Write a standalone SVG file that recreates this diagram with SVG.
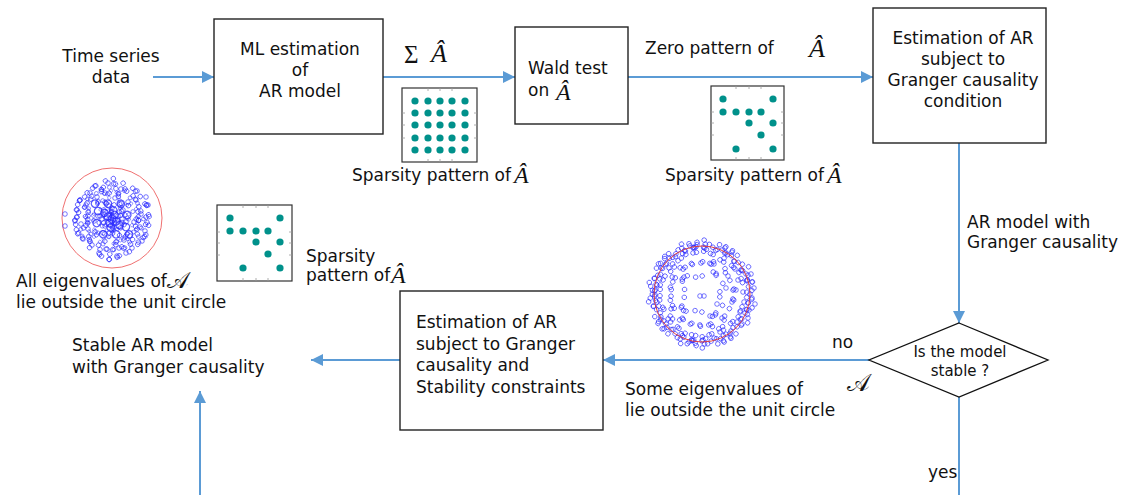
<svg xmlns="http://www.w3.org/2000/svg" xmlns:xlink="http://www.w3.org/1999/xlink" width="1123" height="495" viewBox="0 0 1123 495">
<style>
.t{font-family:"DejaVu Sans","Liberation Sans",sans-serif;font-size:17px;fill:#111}
.ts{font-family:"DejaVu Sans","Liberation Sans",sans-serif;font-size:15px;fill:#111}
.m{font-family:"Liberation Serif","DejaVu Serif",serif;font-style:italic;fill:#111}
.up{font-family:"Liberation Serif","DejaVu Serif",serif;font-style:normal;fill:#111}
.sc{font-family:"DejaVu Serif","DejaVu Sans","Noto Sans",serif;font-style:normal;fill:#111}
.box{fill:#fff;stroke:#222;stroke-width:1.4}
.con{fill:none;stroke:#5b9bd5;stroke-width:2}
.mat{fill:#fff;stroke:#333;stroke-width:1.2}
.tick{stroke:#999;stroke-width:0.8}
.d{fill:#00918b}
.ev{fill:none;stroke:#2a2aff;stroke-width:0.8;stroke-opacity:0.8}
.uc{fill:none;stroke-width:1}
</style>
<defs>
<marker id="ah" markerUnits="userSpaceOnUse" markerWidth="12" markerHeight="12" refX="12" refY="6" orient="auto">
<path d="M0,0 L12,6 L0,12 z" fill="#5b9bd5"/>
</marker>
<g id="sp">
<circle class="d" cx="0" cy="0" r="3.6"/><circle class="d" cx="50" cy="0" r="3.6"/>
<circle class="d" cx="0" cy="13" r="3.6"/><circle class="d" cx="13" cy="13" r="3.6"/><circle class="d" cx="26" cy="13" r="3.6"/><circle class="d" cx="38" cy="13" r="3.6"/>
<circle class="d" cx="26" cy="24" r="3.6"/><circle class="d" cx="50" cy="24" r="3.6"/>
<circle class="d" cx="38" cy="36" r="3.6"/>
<circle class="d" cx="13" cy="50" r="3.6"/><circle class="d" cx="50" cy="50" r="3.6"/>
</g>
<g id="evL" class="ev">
<circle cx="-31" cy="5" r="2.3"/><circle cx="24" cy="-19" r="2.3"/><circle cx="7" cy="29" r="2.3"/><circle cx="-15" cy="-22" r="2.3"/>
<circle cx="33" cy="12" r="2.3"/><circle cx="-4" cy="-36" r="2.3"/><circle cx="18" cy="17" r="2.3"/><circle cx="-26" cy="-14" r="2.3"/>
<circle cx="11" cy="-9" r="2.3"/><circle cx="-9" cy="14" r="2.3"/><circle cx="29" cy="-5" r="2.3"/><circle cx="-20" cy="26" r="2.3"/>
<circle cx="3" cy="-21" r="2.3"/><circle cx="36" cy="-14" r="2.3"/><circle cx="-35" cy="-9" r="2.3"/><circle cx="14" cy="34" r="2.3"/>
<circle cx="-12" cy="-3" r="2.3"/><circle cx="22" cy="3" r="2.3"/><circle cx="-6" cy="30" r="2.3"/><circle cx="9" cy="-30" r="2.3"/>
<circle cx="-24" cy="10" r="2.3"/><circle cx="30" cy="22" r="2.3"/><circle cx="-17" cy="-33" r="2.3"/><circle cx="1" cy="9" r="2.3"/>
<circle cx="25" cy="-28" r="2.3"/><circle cx="-29" cy="20" r="2.3"/><circle cx="16" cy="-17" r="2.3"/><circle cx="-37" cy="2" r="2.3"/>
<circle cx="5" cy="37" r="2.3"/><circle cx="-3" cy="-13" r="2.3"/><circle cx="20" cy="29" r="2.3"/><circle cx="-13" cy="34" r="2.3"/>
<circle cx="34" cy="-22" r="2.3"/><circle cx="-22" cy="-26" r="2.3"/><circle cx="12" cy="21" r="2.3"/><circle cx="-7" cy="-26" r="2.3"/>
<circle cx="28" cy="8" r="2.3"/><circle cx="-32" cy="-19" r="2.3"/><circle cx="6" cy="-3" r="2.3"/><circle cx="-18" cy="2" r="2.3"/>
</g>
<g id="evC" class="ev">
<circle cx="0" cy="0" r="2.3"/><circle cx="3" cy="0" r="2.3"/><circle cx="-3" cy="0" r="2.3"/><circle cx="0" cy="3" r="2.3"/>
<circle cx="0" cy="-3" r="2.3"/><circle cx="6" cy="1" r="2.3"/><circle cx="-6" cy="-1" r="2.3"/><circle cx="2" cy="5" r="2.3"/>
<circle cx="-2" cy="-5" r="2.3"/><circle cx="10" cy="0" r="2.3"/><circle cx="-10" cy="0" r="2.3"/><circle cx="7" cy="7" r="2.3"/>
<circle cx="-7" cy="7" r="2.3"/><circle cx="7" cy="-7" r="2.3"/><circle cx="-7" cy="-7" r="2.3"/><circle cx="0" cy="11" r="2.3"/>
<circle cx="0" cy="-11" r="2.3"/><circle cx="14" cy="3" r="2.3"/><circle cx="-14" cy="-3" r="2.3"/>
</g>
<g id="evR" class="ev">
<circle cx="48" cy="0" r="2.3"/><circle cx="46" cy="9" r="2.3"/><circle cx="43" cy="19" r="2.3"/><circle cx="50" cy="4" r="2.3"/>
<circle cx="52" cy="-6" r="2.3"/><circle cx="45" cy="-13" r="2.3"/><circle cx="39" cy="-24" r="2.3"/><circle cx="35" cy="28" r="2.3"/>
<circle cx="29" cy="37" r="2.3"/><circle cx="47" cy="16" r="2.3"/><circle cx="53" cy="10" r="2.3"/><circle cx="41" cy="-2" r="2.3"/>
<circle cx="36" cy="-14" r="2.3"/><circle cx="44" cy="-20" r="2.3"/><circle cx="32" cy="-33" r="2.3"/><circle cx="24" cy="-41" r="2.3"/>
<circle cx="42" cy="8" r="2.3"/><circle cx="38" cy="18" r="2.3"/><circle cx="50" cy="-12" r="2.3"/><circle cx="30" cy="8" r="2.3"/>
<circle cx="26" cy="-18" r="2.3"/><circle cx="20" cy="24" r="2.3"/><circle cx="12" cy="-30" r="2.3"/><circle cx="46" cy="24" r="2.3"/>
<circle cx="40" cy="30" r="2.3"/><circle cx="49" cy="-20" r="2.3"/><circle cx="34" cy="-4" r="2.3"/><circle cx="18" cy="38" r="2.3"/>
<circle cx="15" cy="10" r="2.3"/><circle cx="24" cy="-6" r="2.3"/><circle cx="8" cy="22" r="2.3"/><circle cx="33" cy="-25" r="2.3"/>
</g>
</defs>
<rect width="1123" height="495" fill="#fff"/>

<g id="connectors">
<path class="con" d="M153,77 H214" marker-end="url(#ah)"/>
<path class="con" d="M383,77 H515" marker-end="url(#ah)"/>
<path class="con" d="M628,77 H873" marker-end="url(#ah)"/>
<path class="con" d="M959,143 V323" marker-end="url(#ah)"/>
<path class="con" d="M869,360 H603" marker-end="url(#ah)"/>
<path class="con" d="M400,360 H311" marker-end="url(#ah)"/>
<path class="con" d="M959,397 V495"/>
<path class="con" d="M200,495 V391" marker-end="url(#ah)"/>
</g>

<g id="input">
<text class="t" x="111" y="62" text-anchor="middle">Time series</text>
<text class="t" x="111" y="83" text-anchor="middle">data</text>
</g>

<g id="ml">
<rect class="box" x="214" y="19" width="169" height="115"/>
<text class="t" x="300" y="55" text-anchor="middle">ML estimation</text>
<text class="t" x="300" y="76" text-anchor="middle">of</text>
<text class="t" x="300" y="97" text-anchor="middle">AR model</text>
</g>

<g id="sigma-label">
<text class="up" x="404" y="63" font-size="25">Σ</text>
<text class="m" x="431" y="62" font-size="26">Â</text>
</g>

<g id="wald">
<rect class="box" x="515" y="27" width="113" height="97"/>
<text class="t" x="528" y="74">Wald test</text>
<text class="t" x="528" y="96">on</text>
<text class="m" x="556" y="100" font-size="24">Â</text>
</g>

<g id="zero-label">
<text class="t" x="645" y="54">Zero pattern of</text>
<text class="m" x="809" y="57" font-size="26">Â</text>
</g>

<g id="est-gc">
<rect class="box" x="873" y="8" width="173" height="135"/>
<text class="t" x="963" y="44" text-anchor="middle">Estimation of AR</text>
<text class="t" x="963" y="65" text-anchor="middle">subject to</text>
<text class="t" x="963" y="86" text-anchor="middle">Granger causality</text>
<text class="t" x="963" y="107" text-anchor="middle">condition</text>
</g>

<g id="gc-label">
<text class="t" x="967" y="228">AR model with</text>
<text class="t" x="967" y="248">Granger causality</text>
</g>

<g id="stable-check">
<path d="M959,323 L1048,360 L959,397 L869,360 Z" fill="#fff" stroke="#111" stroke-width="1.3"/>
<text class="ts" x="960" y="357" text-anchor="middle">Is the model</text>
<text class="ts" x="960" y="376" text-anchor="middle">stable ?</text>
</g>

<g id="no-label">
<text class="t" x="832" y="348">no</text>
<text class="sc" x="847" y="391" font-size="24">𝒜</text>
<text class="t" x="625" y="395">Some eigenvalues of</text>
<text class="t" x="625" y="416">lie outside the unit circle</text>
</g>

<g id="yes-label">
<text class="t" x="928" y="478">yes</text>
</g>

<g id="est-stab">
<rect class="box" x="400" y="291" width="203" height="139"/>
<text class="t" x="416" y="328">Estimation of AR</text>
<text class="t" x="416" y="350">subject to Granger</text>
<text class="t" x="416" y="371">causality and</text>
<text class="t" x="416" y="393">Stability constraints</text>
</g>

<g id="output">
<text class="t" x="72" y="351">Stable AR model</text>
<text class="t" x="72" y="373">with Granger causality</text>
</g>

<g id="sparsity1">
<rect class="mat" x="402" y="88" width="75" height="74"/>
<g class="tick"><path d="M428,88v3M440,88v3M452,88v3M428,162v-3M440,162v-3M452,162v-3M402,113h3M402,125h3M402,138h3M477,113h-3M477,125h-3M477,138h-3"/></g>
<g>
<circle class="d" cx="415" cy="101" r="3.6"/><circle class="d" cx="428" cy="101" r="3.6"/><circle class="d" cx="440" cy="101" r="3.6"/><circle class="d" cx="452" cy="101" r="3.6"/><circle class="d" cx="465" cy="101" r="3.6"/>
<circle class="d" cx="415" cy="113" r="3.6"/><circle class="d" cx="428" cy="113" r="3.6"/><circle class="d" cx="440" cy="113" r="3.6"/><circle class="d" cx="452" cy="113" r="3.6"/><circle class="d" cx="465" cy="113" r="3.6"/>
<circle class="d" cx="415" cy="125" r="3.6"/><circle class="d" cx="428" cy="125" r="3.6"/><circle class="d" cx="440" cy="125" r="3.6"/><circle class="d" cx="452" cy="125" r="3.6"/><circle class="d" cx="465" cy="125" r="3.6"/>
<circle class="d" cx="415" cy="138" r="3.6"/><circle class="d" cx="428" cy="138" r="3.6"/><circle class="d" cx="440" cy="138" r="3.6"/><circle class="d" cx="452" cy="138" r="3.6"/><circle class="d" cx="465" cy="138" r="3.6"/>
<circle class="d" cx="415" cy="150" r="3.6"/><circle class="d" cx="428" cy="150" r="3.6"/><circle class="d" cx="440" cy="150" r="3.6"/><circle class="d" cx="452" cy="150" r="3.6"/><circle class="d" cx="465" cy="150" r="3.6"/>
</g>
<text class="t" x="352" y="181">Sparsity pattern of</text>
<text class="m" x="514" y="183" font-size="24">Â</text>
</g>

<g id="sparsity2">
<rect class="mat" x="711" y="86" width="73" height="74"/>
<g class="tick"><path d="M736,86v3M749,86v3M761,86v3M736,160v-3M749,160v-3M761,160v-3M711,112h3M711,123h3M711,135h3M784,112h-3M784,123h-3M784,135h-3"/></g>
<use xlink:href="#sp" href="#sp" transform="translate(723,99)"/>
<text class="t" x="665" y="181">Sparsity pattern of</text>
<text class="m" x="827" y="183" font-size="24">Â</text>
</g>

<g id="sparsity3">
<rect class="mat" x="217" y="205" width="75" height="76"/>
<g class="tick"><path d="M243,205v3M256,205v3M268,205v3M243,281v-3M256,281v-3M268,281v-3M217,232h3M217,243h3M217,255h3M292,232h-3M292,243h-3M292,255h-3"/></g>
<use xlink:href="#sp" href="#sp" transform="translate(230,218)"/>
<text class="t" x="306" y="262">Sparsity</text>
<text class="t" x="306" y="281">pattern of</text>
<text class="m" x="391" y="283" font-size="24">Â</text>
</g>

<g id="eig-stable">
<circle class="uc" cx="112" cy="218" r="50" stroke="#f07070"/>
<g transform="translate(112,219)">
<use href="#evL" xlink:href="#evL"/>
<use href="#evL" xlink:href="#evL" transform="rotate(61) scale(1,-1)"/>
<use href="#evL" xlink:href="#evL" transform="rotate(127)"/>
<use href="#evL" xlink:href="#evL" transform="rotate(183) scale(0.85)"/>
<use href="#evL" xlink:href="#evL" transform="rotate(239) scale(1,-1)"/>
<use href="#evL" xlink:href="#evL" transform="rotate(301) scale(0.7)"/>
<use href="#evC" xlink:href="#evC"/>
<use href="#evC" xlink:href="#evC" transform="rotate(30) scale(1.6)"/>
<g class="ev"><circle cx="-47" cy="-5" r="2.3"/><circle cx="-47" cy="7" r="2.3"/></g>
</g>
<text class="t" x="16" y="287">All eigenvalues of</text>
<text class="sc" x="167" y="288" font-size="23">𝒜</text>
<text class="t" x="16" y="308">lie outside the unit circle</text>
</g>

<g id="eig-unstable">
<g transform="translate(702,294)">
<use href="#evR" xlink:href="#evR"/>
<use href="#evR" xlink:href="#evR" transform="rotate(43) scale(1,-1)"/>
<use href="#evR" xlink:href="#evR" transform="rotate(79)"/>
<use href="#evR" xlink:href="#evR" transform="rotate(124) scale(1,-1)"/>
<use href="#evR" xlink:href="#evR" transform="rotate(161)"/>
<use href="#evR" xlink:href="#evR" transform="rotate(203) scale(1,-1)"/>
<use href="#evR" xlink:href="#evR" transform="rotate(237)"/>
<use href="#evR" xlink:href="#evR" transform="rotate(283) scale(1,-1)"/>
<use href="#evR" xlink:href="#evR" transform="rotate(319)"/>
<g class="ev"><circle cx="-2" cy="2" r="2.3"/><circle cx="2" cy="2" r="2.3"/></g>
</g>
<circle class="uc" cx="702" cy="294" r="48" stroke="#e04040"/>
</g>
</svg>
